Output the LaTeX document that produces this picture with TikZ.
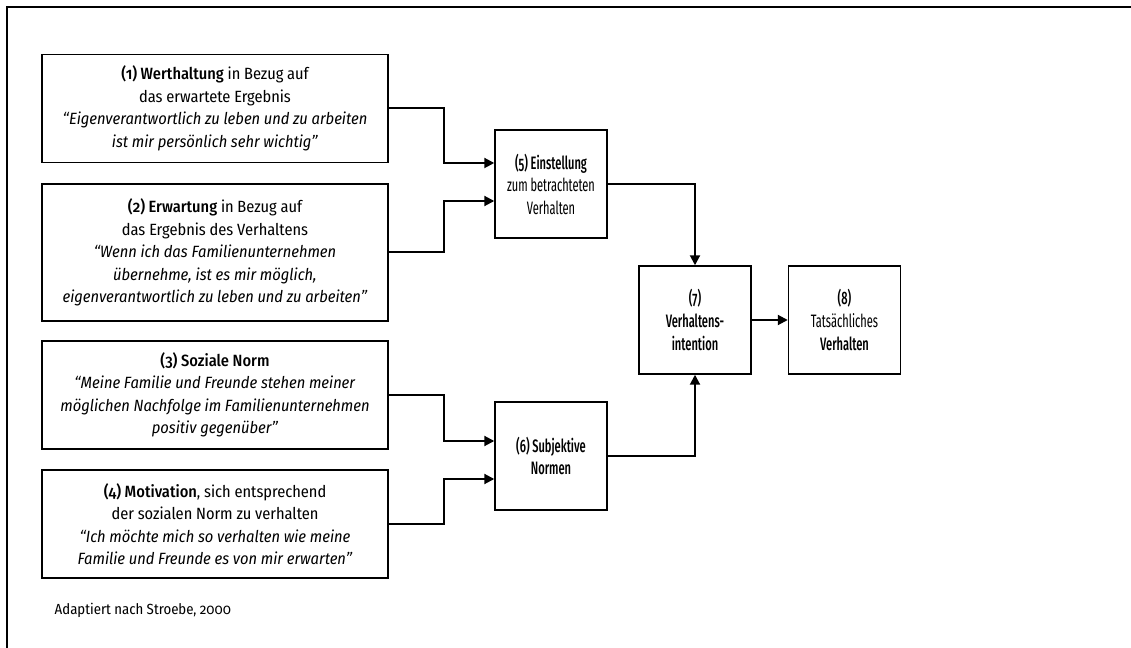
\documentclass[tikz,border=0pt]{standalone}
\usepackage{fontspec}
\setmainfont{Fira Sans Condensed}[Numbers=OldStyle, BoldFont={Fira Sans Condensed Medium}, BoldItalicFont={Fira Sans Condensed Medium Italic}]
\newfontfamily\schmal{Fira Sans Condensed}[FakeStretch=0.68, Numbers=OldStyle, BoldFont={Fira Sans Condensed Medium}, BoldFeatures={FakeStretch=0.68}]
\usetikzlibrary{arrows.meta}

\begin{document}
\begin{tikzpicture}[x=0.75pt, y=-0.75pt, >={Triangle[length=7.5pt,width=7.5pt]},
  box/.style={draw, line width=1.1pt, align=center, inner sep=2pt,
    font=\fontsize{12.2}{16.9}\selectfont},
  wide/.style={box, minimum width=346*0.75pt, minimum height=108*0.75pt},
  small/.style={box, minimum width=112*0.75pt, minimum height=108*0.75pt,
    font=\schmal\fontsize{13.5}{16.9}\selectfont},
  arr/.style={->, line width=1.5pt}]
  \useasboundingbox (0,0) rectangle (1131,648);
  \draw[line width=1.5pt] (1131,7) -- (7,7) -- (7,648);

  \node[wide] (werte) at (215,108.5) {\textbf{(1) Werthaltung} in Bezug auf\\ das erwartete Ergebnis\\
    \textit{“Eigenverantwortlich zu leben und zu arbeiten}\\ \textit{ist mir persönlich sehr wichtig”}};
  \node[wide, minimum height=137*0.75pt] (erwart) at (215,252.5) {\textbf{(2) Erwartung} in Bezug auf\\ das Ergebnis des Verhaltens\\
    \textit{“Wenn ich das Familienunternehmen}\\ \textit{übernehme, ist es mir möglich,}\\
    \textit{eigenverantwortlich zu leben und zu arbeiten”}};
  \node[wide] (norm) at (215,395) {\textbf{(3) Soziale Norm}\\ \textit{“Meine Familie und Freunde stehen meiner}\\
    \textit{möglichen Nachfolge im Familienunternehmen}\\ \textit{positiv gegenüber”}};
  \node[wide] (motiv) at (215,524) {\textbf{(4) Motivation}, sich entsprechend\\ der sozialen Norm zu verhalten\\
    \textit{“Ich möchte mich so verhalten wie meine}\\ \textit{Familie und Freunde es von mir erwarten”}};

  \node[small] (einst) at (551,184) {\textbf{(5) Einstellung}\\ zum betrachteten\\ Verhalten};
  \node[small] (subj) at (551,456) {\textbf{(6) Subjektive}\\ \textbf{Normen}};
  \node[small] (intent) at (695,320) {\textbf{(7)}\\ \textbf{Verhaltens-}\\ \textbf{intention}};
  \node[small] (verh) at (844.5,320) {\textbf{(8)}\\ Tatsächliches\\ \textbf{Verhalten}};

  \node[anchor=west, font=\fontsize{11}{13}\selectfont] (quelle) at (50,610) {Adaptiert nach Stroebe, 2000};

  % Pfeile
  \draw[arr] (werte.east) -- ++(55,0) |- ([yshift=15.75pt]einst.west);
  \draw[arr] (erwart.east) -- ++(55,0) |- ([yshift=-12.75pt]einst.west);
  \draw[arr] (norm.east) -- ++(55,0) |- ([yshift=11.25pt]subj.west);
  \draw[arr] (motiv.east) -- ++(55,0) |- ([yshift=-17.25pt]subj.west);
  \draw[arr] (einst.east) -| (intent.north);
  \draw[arr] (subj.east) -| (intent.south);
  \draw[arr] (intent) -- (verh);
\end{tikzpicture}
\end{document}
